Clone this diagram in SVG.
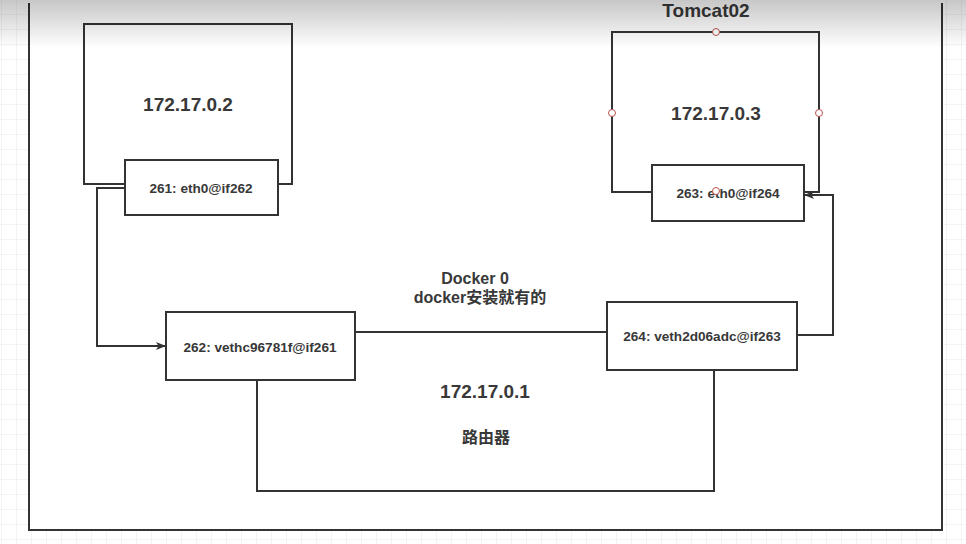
<svg xmlns="http://www.w3.org/2000/svg" width="966" height="544" viewBox="0 0 966 544">
  <defs>
    <pattern id="grid" width="15" height="15" patternUnits="userSpaceOnUse" x="2" y="0">
      <path d="M15,0 V15 M0,15 H15" fill="none" stroke="#e9e9e9" stroke-width="1"/>
    </pattern>
    <linearGradient id="shade" x1="0" y1="0" x2="0" y2="1">
      <stop offset="0" stop-color="#000" stop-opacity="0.22"/>
      <stop offset="1" stop-color="#000" stop-opacity="0"/>
    </linearGradient>
    <marker id="arrow" markerWidth="10" markerHeight="8" refX="9" refY="4" orient="auto" markerUnits="userSpaceOnUse">
      <path d="M0,0 L10,4 L0,8 L2.5,4 Z" fill="#333"/>
    </marker>
    <style>
      .box { fill: #fff; stroke: #333; stroke-width: 2; }
      .line { fill: none; stroke: #333; stroke-width: 2; }
      .big { font-family: "Liberation Sans", "Noto Sans CJK SC", sans-serif; font-size: 19px; font-weight: bold; fill: #383838; text-anchor: middle; }
      .port { font-family: "Liberation Sans", "Noto Sans CJK SC", sans-serif; font-size: 13.6px; font-weight: bold; fill: #383838; text-anchor: middle; }
      .label { font-family: "Liberation Sans", "Noto Sans CJK SC", sans-serif; font-size: 16px; font-weight: bold; fill: #383838; text-anchor: middle; }
      .handle { fill: #fff; stroke: #b85450; stroke-width: 1; }
    </style>
  </defs>

  <rect width="966" height="544" fill="#fff"/>
  <rect width="966" height="544" fill="url(#grid)"/>
  <rect x="29" y="0" width="913" height="530" fill="#fff"/>

  <g id="frame">
    <path class="line" d="M29,3 V530 H942 V3"/>
  </g>

  <g id="tomcat01">
    <rect class="box" x="84" y="24" width="208" height="160"/>
    <text class="big" x="188" y="111">172.17.0.2</text>
  </g>

  <g id="tomcat02">
    <rect class="box" x="612" y="32" width="207" height="160"/>
    <text class="big" x="716" y="120">172.17.0.3</text>
    <text class="big" x="706" y="17" font-size="16px">Tomcat02</text>
  </g>

  <g id="connectors">
    <path class="line" d="M125,188 H97 V346 H165" marker-end="url(#arrow)"/>
    <path class="line" d="M355,332 H607"/>
    <path class="line" d="M797,335 H833 V195 H805" marker-end="url(#arrow)"/>
    <path class="line" d="M257,380 V491 H714 V370"/>
  </g>

  <g id="eth0-261">
    <rect class="box" x="125" y="160" width="153" height="55"/>
    <text class="port" x="201" y="193">261: eth0@if262</text>
  </g>

  <g id="eth0-263">
    <rect class="box" x="652" y="165" width="152" height="56"/>
    <text class="port" x="728" y="198">263: eth0@if264</text>
  </g>

  <g id="handles">
    <circle class="handle" cx="716" cy="32" r="3.5"/>
    <circle class="handle" cx="612" cy="113" r="3.5"/>
    <circle class="handle" cx="819" cy="113" r="3.5"/>
    <circle class="handle" cx="716" cy="191" r="3.5"/>
  </g>

  <g id="veth-262">
    <rect class="box" x="166" y="312" width="189" height="68"/>
    <text class="port" x="260" y="352">262: vethc96781f@if261</text>
  </g>

  <g id="veth-264">
    <rect class="box" x="607" y="302" width="190" height="68"/>
    <text class="port" x="702" y="341">264: veth2d06adc@if263</text>
  </g>

  <g id="docker0">
    <text class="label" x="475" y="284">Docker 0</text>
    <text class="label" x="480" y="303">docker安装就有的</text>
    <text class="big" x="485" y="398">172.17.0.1</text>
    <text class="label" x="486" y="443" font-size="18px">路由器</text>
  </g>

  <rect x="0" y="0" width="966" height="48" fill="url(#shade)"/>
</svg>
